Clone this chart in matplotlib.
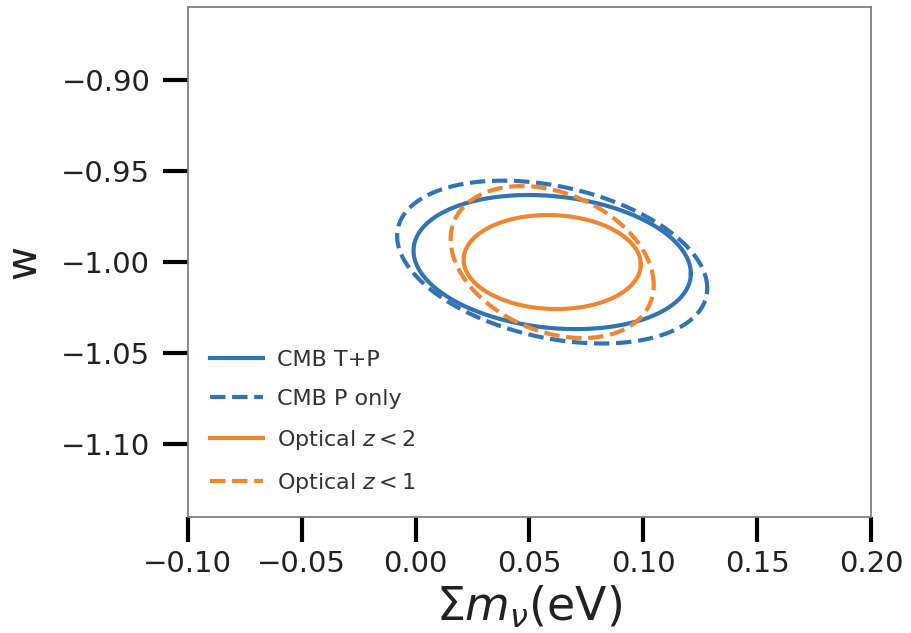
import numpy as np
import matplotlib
matplotlib.use("Agg")
import matplotlib.pyplot as plt

# Forecast ellipses: centre, half-extent in x and y, correlation
labels = ["CMB T+P", "CMB P only", "Optical $z<2$", "Optical $z<1$"]
center_x = [0.06, 0.06, 0.06, 0.06]
center_y = [-1.0, -1.0, -1.0, -1.0]
half_x = [0.0609, 0.0681, 0.0389, 0.0446]
half_y = [0.0368, 0.0447, 0.0258, 0.0417]
corr = [-0.17, -0.32, -0.05, -0.30]
colors = ["#3274b3", "#3274b3", "#f0862f", "#f0862f"]
styles = ["-", "--", "-", "--"]

xticks = [-0.10, -0.05, 0.00, 0.05, 0.10, 0.15, 0.20]
yticks = [-0.90, -0.95, -1.00, -1.05, -1.10]

fig = plt.figure(figsize=(9.12, 6.33), dpi=100)
ax = fig.add_axes([0.206, 0.183, 0.749, 0.806])

t = np.linspace(0, 2 * np.pi, 400)
for lab, cx, cy, sx, sy, r, c, ls in zip(labels, center_x, center_y, half_x, half_y, corr, colors, styles):
    x = cx + sx * np.cos(t)
    y = cy + sy * (r * np.cos(t) + np.sqrt(1 - r ** 2) * np.sin(t))
    ax.plot(x, y, color=c, ls=ls, lw=3, label=lab)

ax.set_xlim(-0.10, 0.20)
ax.set_ylim(-1.14, -0.86)
ax.set_xticks(xticks)
ax.set_yticks(yticks)
ax.set_xticklabels([f"{v:.2f}".replace("-", "\u2212") for v in xticks])
ax.set_yticklabels([f"{v:.2f}".replace("-", "\u2212") for v in yticks])
ax.tick_params(direction="out", length=18, width=3, colors="black", labelsize=21, labelcolor="#222222")
ax.tick_params(axis="y", pad=9)
ax.tick_params(axis="x", pad=6)
for sp in ax.spines.values():
    sp.set_color("#808080")
    sp.set_linewidth(1.3)

ax.set_xlabel(r"$\Sigma m_\nu$(eV)", fontsize=33, color="#222222", labelpad=4)
ax.set_ylabel("w", fontsize=30, color="#222222", labelpad=12)

leg = ax.legend(loc="lower left", frameon=False, fontsize=16, handlelength=2.4,
                handletextpad=0.6, labelspacing=0.85, borderaxespad=0.6)
for txt in leg.get_texts():
    txt.set_color("#333333")

fig.savefig("out.png", dpi=100)
